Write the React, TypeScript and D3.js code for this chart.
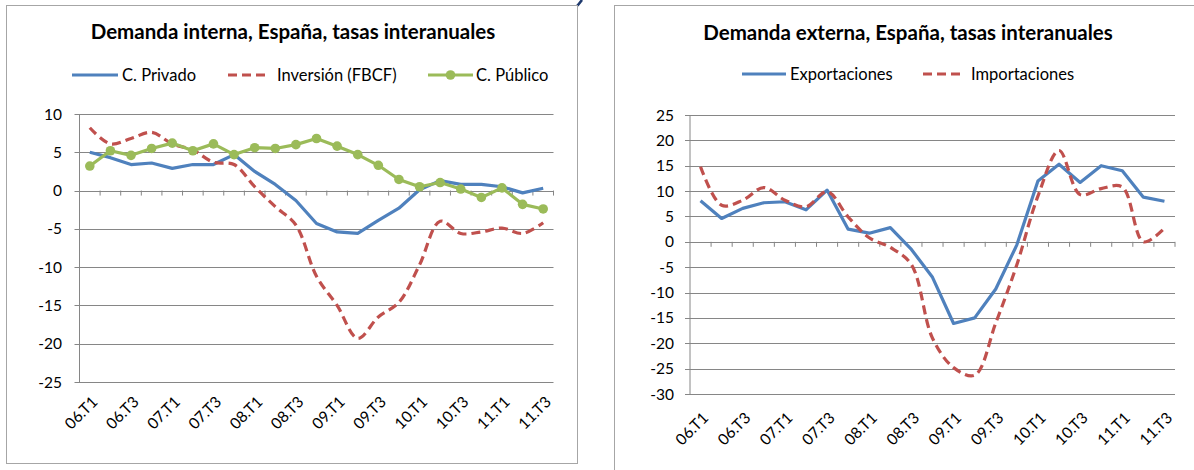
import React from "react";
import * as d3 from "d3";

// quarters 2006 T1 .. 2011 T3
const quarters = [
  "06.T1", "06.T2", "06.T3", "06.T4",
  "07.T1", "07.T2", "07.T3", "07.T4",
  "08.T1", "08.T2", "08.T3", "08.T4",
  "09.T1", "09.T2", "09.T3", "09.T4",
  "10.T1", "10.T2", "10.T3", "10.T4",
  "11.T1", "11.T2", "11.T3",
];
const tickLabels = ["06.T1", "06.T3", "07.T1", "07.T3", "08.T1", "08.T3", "09.T1", "09.T3", "10.T1", "10.T3", "11.T1", "11.T3"];

// Demanda interna
const privado = [5.0, 4.3, 3.4, 3.6, 2.9, 3.4, 3.4, 4.7, 2.5, 0.8, -1.3, -4.3, -5.4, -5.6, -3.9, -2.3, 0.1, 1.3, 0.8, 0.8, 0.5, -0.3, 0.3];
const inversion = [8.2, 6.1, 6.8, 7.6, 6.1, 5.3, 3.7, 3.4, 0.5, -2.1, -4.5, -11.2, -15.0, -19.3, -16.5, -14.6, -9.7, -4.0, -5.6, -5.4, -4.9, -5.6, -4.2];
const publico = [3.2, 5.2, 4.6, 5.5, 6.2, 5.2, 6.1, 4.7, 5.6, 5.5, 6.0, 6.8, 5.8, 4.7, 3.3, 1.45, 0.5, 1.05, 0.2, -0.9, 0.35, -1.8, -2.4];

// Demanda externa
const exportaciones = [8.1, 4.6, 6.6, 7.7, 7.9, 6.3, 10.2, 2.5, 1.7, 2.8, -1.5, -7.0, -16.1, -15.0, -9.3, -0.6, 12.0, 15.3, 11.7, 15.0, 14.0, 8.8, 8.0];
const importaciones = [14.8, 7.2, 8.2, 10.7, 8.2, 6.9, 9.9, 4.9, 0.8, -1.1, -4.5, -19.0, -24.8, -26.3, -16.0, -4.5, 9.0, 18.0, 9.3, 10.5, 10.8, 0.0, 2.7];

const BLUE = "#4F81BD";
const RED = "#C0504D";
const GREEN = "#9BBB59";
const GRID = "#868686";
const FONT = "Lato, 'Open Sans', sans-serif";

type Serie = {
  name: string;
  values: number[];
  color: string;
  dashed?: boolean;
  smooth?: boolean;
  markers?: boolean;
};

type LegendItem = { serie: Serie; x1: number; x2: number; tx: number };

type ChartProps = {
  frame: { x: number; y: number; w: number; h: number };
  title: string;
  titleX: number;
  titleY: number;
  legend: LegendItem[];
  legendY: number;
  plot: { left: number; right: number; top: number; bottom: number };
  yDomain: [number, number];
  series: Serie[];
  labelLeft: number;
  labelDy: number;
};

function LineChart(props: ChartProps) {
  const { frame, plot, yDomain, series } = props;
  const x = d3.scaleBand<string>().domain(quarters).range([plot.left, plot.right]).padding(0);
  const y = d3.scaleLinear().domain(yDomain).range([plot.bottom, plot.top]);
  const yTicks = d3.range(yDomain[0], yDomain[1] + 1, 5);
  const cx = (i: number) => (x(quarters[i]) as number) + x.bandwidth() / 2;
  const y0 = y(0);

  const straight = d3.line<number>().x((_, i) => cx(i)).y((d) => y(d));
  const smooth = d3.line<number>().x((_, i) => cx(i)).y((d) => y(d)).curve(d3.curveCatmullRom.alpha(0.5));

  return (
    <g>
      <rect x={frame.x} y={frame.y} width={frame.w} height={frame.h} fill="#fff" stroke="#a6a6a6" strokeWidth={1} />
      <text x={props.titleX} y={props.titleY} textAnchor="middle" fontFamily={FONT} fontWeight="bold" fontSize={20.5} fill="#000">
        {props.title}
      </text>

      {/* legend */}
      {props.legend.map((it) => (
        <g key={it.serie.name}>
          <line
            x1={it.x1}
            x2={it.x2}
            y1={props.legendY - 6}
            y2={props.legendY - 6}
            stroke={it.serie.color}
            strokeWidth={3.2}
            strokeDasharray={it.serie.dashed ? "9,5" : undefined}
          />
          {it.serie.markers && <circle cx={(it.x1 + it.x2) / 2} cy={props.legendY - 6} r={4.8} fill={it.serie.color} />}
          <text x={it.tx} y={props.legendY} fontFamily={FONT} fontSize={16.5} fill="#000">
            {it.serie.name}
          </text>
        </g>
      ))}

      {/* gridlines + y labels */}
      {yTicks.map((t) => (
        <g key={t}>
          <line x1={plot.left - 5} x2={plot.right} y1={Math.round(y(t)) + 0.5} y2={Math.round(y(t)) + 0.5} stroke={GRID} strokeWidth={1} />
          <text x={props.labelLeft} y={y(t)} dy="0.36em" textAnchor="end" fontFamily={FONT} fontSize={15.5} fill="#000">
            {t}
          </text>
        </g>
      ))}
      <line x1={plot.left} x2={plot.left} y1={plot.top} y2={plot.bottom} stroke={GRID} strokeWidth={1} />

      {/* category ticks along the zero axis */}
      {quarters.map((q) => (
        <line key={q} x1={(x(q) as number) + x.bandwidth()} x2={(x(q) as number) + x.bandwidth()} y1={y0} y2={y0 + 5} stroke={GRID} strokeWidth={1} />
      ))}

      {/* x labels */}
      {tickLabels.map((q) => {
        const px = (x(q) as number) + x.bandwidth() / 2;
        const py = plot.bottom + props.labelDy;
        return (
          <text
            key={q}
            transform={`translate(${px + 5},${py}) rotate(-45)`}
            textAnchor="end"
            dy="0.35em"
            fontFamily={FONT}
            fontSize={15.5}
            fill="#000"
          >
            {q}
          </text>
        );
      })}

      {/* series */}
      {series.map((s) => (
        <g key={s.name}>
          <path
            d={(s.smooth ? smooth : straight)(s.values) || ""}
            fill="none"
            stroke={s.color}
            strokeWidth={3.2}
            strokeLinejoin="round"
            strokeDasharray={s.dashed ? "9,5" : undefined}
          />
          {s.markers &&
            s.values.map((v, i) => <circle key={i} cx={cx(i)} cy={y(v)} r={4.8} fill={s.color} />)}
        </g>
      ))}
    </g>
  );
}

export default function App() {
  const sPrivado: Serie = { name: "C. Privado", values: privado, color: BLUE };
  const sInversion: Serie = { name: "Inversión (FBCF)", values: inversion, color: RED, dashed: true, smooth: true };
  const sPublico: Serie = { name: "C. Público", values: publico, color: GREEN, markers: true };
  const sExport: Serie = { name: "Exportaciones", values: exportaciones, color: BLUE };
  const sImport: Serie = { name: "Importaciones", values: importaciones, color: RED, dashed: true, smooth: true };

  return (
    <svg width={1194} height={470} style={{ position: "absolute", left: 0, top: 0, background: "#fff" }}>
      <rect x={0} y={0} width={1194} height={470} fill="#fff" />
      {/* tail of a glyph from the slide heading above, cut by the crop */}
      <path d="M582,0 L578,5 Q576,7.5 573,7" fill="none" stroke="#1F3A6E" strokeWidth={2.6} />
      <LineChart
        frame={{ x: 6.5, y: 5.5, w: 571, h: 458 }}
        title="Demanda interna, España, tasas interanuales"
        titleX={293}
        titleY={39}
        legend={[
          { serie: sPrivado, x1: 72, x2: 118, tx: 122 },
          { serie: sInversion, x1: 228, x2: 268, tx: 277 },
          { serie: sPublico, x1: 428, x2: 473, tx: 476 },
        ]}
        legendY={81}
        plot={{ left: 79.5, right: 553.5, top: 114, bottom: 382 }}
        yDomain={[-25, 10]}
        series={[sPrivado, sInversion, sPublico]}
        labelLeft={62}
        labelDy={17}
      />
      <LineChart
        frame={{ x: 614.5, y: 5.5, w: 600, h: 480 }}
        title="Demanda externa, España, tasas interanuales"
        titleX={908}
        titleY={40}
        legend={[
          { serie: sExport, x1: 742, x2: 786, tx: 790 },
          { serie: sImport, x1: 923, x2: 963, tx: 971 },
        ]}
        legendY={80}
        plot={{ left: 690, right: 1175, top: 115, bottom: 394 }}
        yDomain={[-30, 25]}
        series={[sExport, sImport]}
        labelLeft={674}
        labelDy={21}
      />
    </svg>
  );
}
